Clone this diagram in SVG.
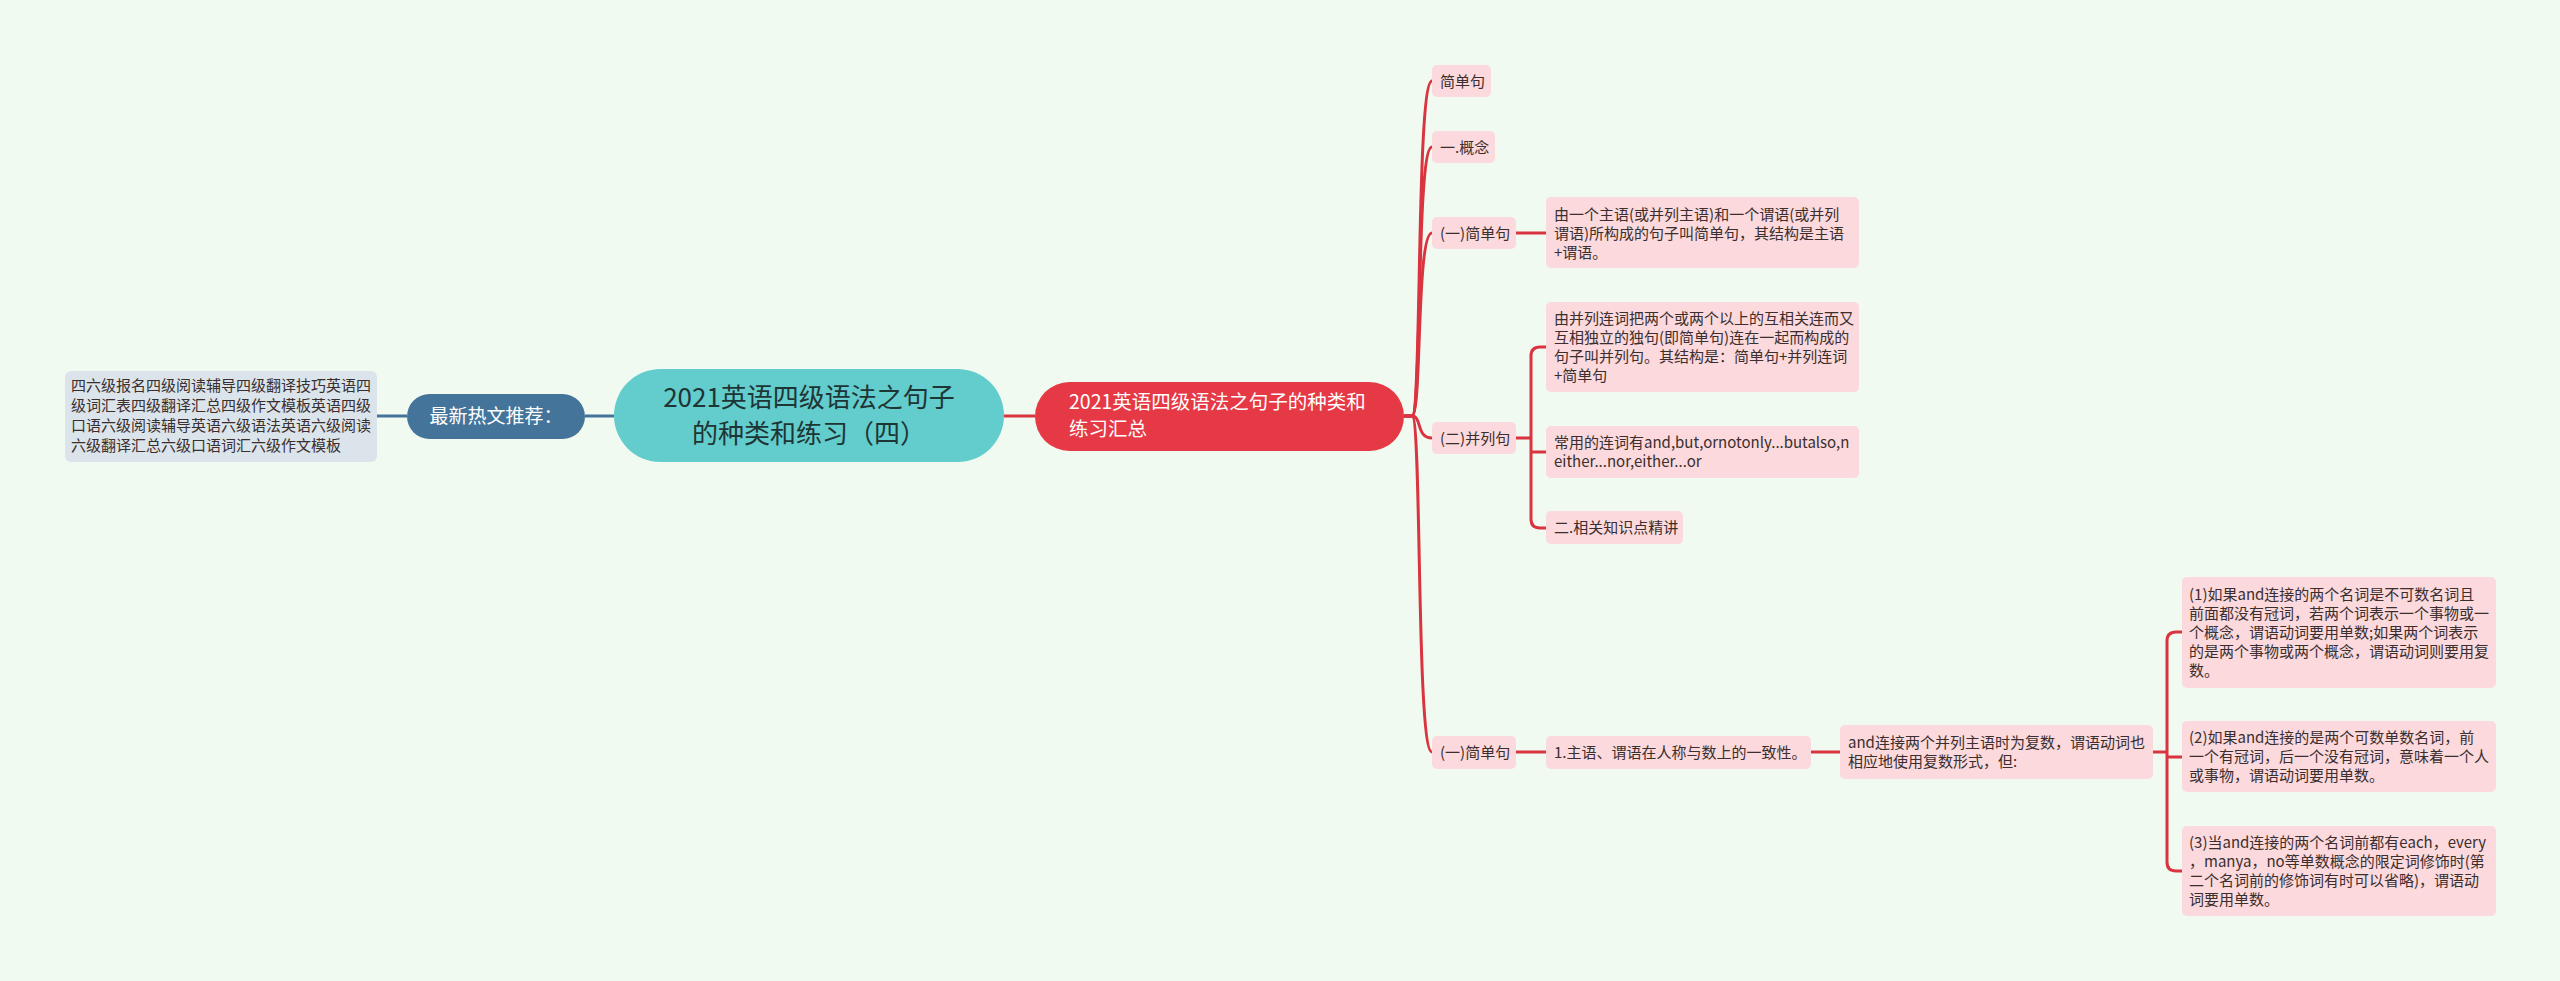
<svg xmlns="http://www.w3.org/2000/svg" width="2560" height="981" viewBox="0 0 2560 981">
<style>
text{font-family:"Noto Sans CJK SC","Noto Sans",sans-serif;}
.pk{fill:#fbd9dc;}
.t{font-size:15px;fill:#3a2e2e;}
.red{fill:none;stroke:#d9343f;stroke-width:3;}
.blue{fill:none;stroke:#44749a;stroke-width:3;}
</style>
<rect width="2560" height="981" fill="#f1faf0"/>
<g id="connectors">
<path class="blue" d="M377 416 H407"/>
<path class="blue" d="M585 416 H614"/>
<path class="red" d="M1004 416 H1035"/>
<path class="red" d="M1404 416 H1412 C1422 416 1416 81 1432 81"/>
<path class="red" d="M1404 416 H1412 C1422 416 1416 147 1432 147"/>
<path class="red" d="M1404 416 H1412 C1422 416 1416 233 1432 233"/>
<path class="red" d="M1404 416 H1412 C1422 416 1416 438 1432 438"/>
<path class="red" d="M1404 416 H1412 C1422 416 1416 752 1432 752"/>
<path class="red" d="M1516 233 H1546"/>
<path class="red" d="M1516 438 H1531"/>
<path class="red" d="M1546 347 H1540 Q1531 347 1531 356 V519 Q1531 528 1540 528 H1546"/>
<path class="red" d="M1531 452 H1546"/>
<path class="red" d="M1516 752 H1546"/>
<path class="red" d="M1811 752 H1840"/>
<path class="red" d="M2153 752 H2167"/>
<path class="red" d="M2182 632 H2176 Q2167 632 2167 641 V862 Q2167 871 2176 871 H2182"/>
<path class="red" d="M2167 757 H2182"/>
</g>
<g id="hot-list">
<rect x="65" y="371" width="312" height="91" rx="6" fill="#dbe4ea"/>
<text class="t" x="71"><tspan x="71" y="391">四六级报名四级阅读辅导四级翻译技巧英语四</tspan><tspan x="71" y="411">级词汇表四级翻译汇总四级作文模板英语四级</tspan><tspan x="71" y="431">口语六级阅读辅导英语六级语法英语六级阅读</tspan><tspan x="71" y="451">六级翻译汇总六级口语词汇六级作文模板</tspan></text>
</g>
<g id="hot">
<rect x="407" y="394" width="178" height="45" rx="22.5" fill="#44749a"/>
<text x="496" y="423" font-size="19" fill="#fff" text-anchor="middle">最新热文推荐：</text>
</g>
<g id="root">
<rect x="614" y="369" width="390" height="93" rx="46.5" fill="#63cccc"/>
<text x="809" font-size="26" fill="#1e3535" text-anchor="middle"><tspan x="809" y="407">2021英语四级语法之句子</tspan><tspan x="809" y="443">的种类和练习（四）</tspan></text>
</g>
<g id="summary">
<rect x="1035" y="382" width="369" height="69" rx="34.5" fill="#e63946"/>
<text font-size="19.5" fill="#fff"><tspan x="1069" y="409">2021英语四级语法之句子的种类和</tspan><tspan x="1069" y="436">练习汇总</tspan></text>
</g>
<g id="n1">
<rect class="pk" x="1432" y="65" width="59" height="32" rx="5"/>
<text class="t" x="1440" y="86.5">简单句</text>
</g>
<g id="n2">
<rect class="pk" x="1432" y="131" width="63" height="32" rx="5"/>
<text class="t" x="1440" y="152.5">一.概念</text>
</g>
<g id="n3">
<rect class="pk" x="1432" y="217" width="84" height="32" rx="5"/>
<text class="t" x="1440" y="238.5">(一)简单句</text>
</g>
<g id="n3-detail">
<rect class="pk" x="1546" y="197" width="313" height="71" rx="5"/>
<text class="t"><tspan x="1554" y="220">由一个主语(或并列主语)和一个谓语(或并列</tspan><tspan x="1554" y="239">谓语)所构成的句子叫简单句，其结构是主语</tspan><tspan x="1554" y="258">+谓语。</tspan></text>
</g>
<g id="n4">
<rect class="pk" x="1432" y="422" width="84" height="32" rx="5"/>
<text class="t" x="1440" y="443.5">(二)并列句</text>
</g>
<g id="n4-a">
<rect class="pk" x="1546" y="302" width="313" height="90" rx="5"/>
<text class="t"><tspan x="1554" y="324">由并列连词把两个或两个以上的互相关连而又</tspan><tspan x="1554" y="343">互相独立的独句(即简单句)连在一起而构成的</tspan><tspan x="1554" y="362">句子叫并列句。其结构是：简单句+并列连词</tspan><tspan x="1554" y="381">+简单句</tspan></text>
</g>
<g id="n4-b">
<rect class="pk" x="1546" y="426" width="313" height="52" rx="5"/>
<text class="t"><tspan x="1554" y="448">常用的连词有and,but,ornotonly...butalso,n</tspan><tspan x="1554" y="467">either...nor,either...or</tspan></text>
</g>
<g id="n4-c">
<rect class="pk" x="1546" y="511" width="137" height="33" rx="5"/>
<text class="t" x="1554" y="533">二.相关知识点精讲</text>
</g>
<g id="n5">
<rect class="pk" x="1432" y="736" width="84" height="33" rx="5"/>
<text class="t" x="1440" y="758">(一)简单句</text>
</g>
<g id="n5-a">
<rect class="pk" x="1546" y="736" width="265" height="33" rx="5"/>
<text class="t" x="1554" y="758">1.主语、谓语在人称与数上的一致性。</text>
</g>
<g id="n5-b">
<rect class="pk" x="1840" y="725" width="313" height="54" rx="5"/>
<text class="t"><tspan x="1848" y="748">and连接两个并列主语时为复数，谓语动词也</tspan><tspan x="1848" y="767">相应地使用复数形式，但:</tspan></text>
</g>
<g id="e1">
<rect class="pk" x="2182" y="577" width="314" height="111" rx="5"/>
<text class="t"><tspan x="2189" y="600">(1)如果and连接的两个名词是不可数名词且</tspan><tspan x="2189" y="619">前面都没有冠词，若两个词表示一个事物或一</tspan><tspan x="2189" y="638">个概念，谓语动词要用单数;如果两个词表示</tspan><tspan x="2189" y="657">的是两个事物或两个概念，谓语动词则要用复</tspan><tspan x="2189" y="676">数。</tspan></text>
</g>
<g id="e2">
<rect class="pk" x="2182" y="721" width="314" height="71" rx="5"/>
<text class="t"><tspan x="2189" y="743">(2)如果and连接的是两个可数单数名词，前</tspan><tspan x="2189" y="762">一个有冠词，后一个没有冠词，意味着一个人</tspan><tspan x="2189" y="781">或事物，谓语动词要用单数。</tspan></text>
</g>
<g id="e3">
<rect class="pk" x="2182" y="826" width="314" height="90" rx="5"/>
<text class="t"><tspan x="2189" y="848">(3)当and连接的两个名词前都有each，every</tspan><tspan x="2189" y="867">，manya，no等单数概念的限定词修饰时(第</tspan><tspan x="2189" y="886">二个名词前的修饰词有时可以省略)，谓语动</tspan><tspan x="2189" y="905">词要用单数。</tspan></text>
</g>
</svg>
